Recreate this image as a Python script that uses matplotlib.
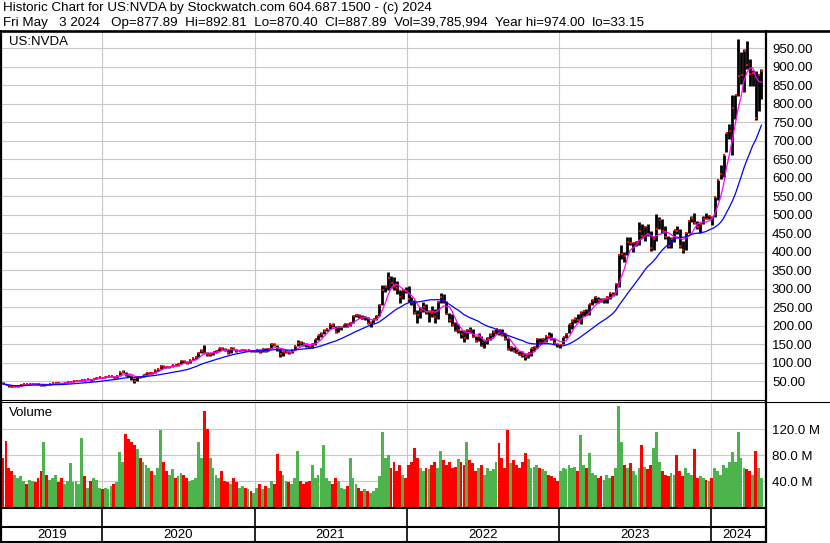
import numpy as np
import pandas as pd
import matplotlib
matplotlib.use('Agg')
import matplotlib.pyplot as plt
import matplotlib.dates as mdates

plt.rcParams['font.family'] = ['Liberation Sans', 'DejaVu Sans']
plt.rcParams['font.size'] = 9.5

# Weekly bars, weeks starting Monday 2019-05-06 (USD, millions of shares)
close_2019 = [42.2, 39.7, 35.8, 33.9, 35.7, 36.2, 38.6, 41.1, 41.0, 42.0, 42.5, 42.3, 40.6, 39.3, 40.2, 40.0, 42.0, 44.7,
              45.5, 44.4, 42.7, 44.2, 47.0, 48.5, 50.0, 51.2, 51.2, 53.5, 52.3, 54.2, 52.0, 56.0, 59.5, 59.6, 59.0]
high_2019 = [46.0, 42.8, 39.5, 36.5, 36.2, 37.5, 39.5, 41.5, 42.5, 42.5, 44.0, 44.5, 43.8, 40.5, 42.0, 42.0, 42.3, 45.0,
             46.5, 46.5, 44.8, 44.5, 47.5, 49.5, 50.5, 52.0, 52.5, 55.0, 53.8, 54.5, 54.5, 56.5, 60.0, 60.0, 60.5]
low_2019 = [41.0, 38.5, 34.5, 33.2, 33.2, 35.0, 36.0, 38.0, 40.2, 40.0, 41.5, 41.5, 40.0, 36.5, 37.5, 38.5, 39.5, 41.5,
            44.0, 43.5, 41.8, 41.5, 43.5, 46.5, 48.0, 49.5, 50.5, 50.5, 50.5, 52.0, 50.5, 52.5, 56.0, 59.0, 58.0]
vol_2019 = [75, 102, 60, 55, 50, 45, 48, 40, 35, 42, 40, 38, 45, 55, 100, 50, 42, 45, 50, 38, 45, 35, 40, 68, 38, 40,
            35, 106, 48, 30, 40, 45, 42, 30, 28]

close_2020 = [61.5, 62.3, 62.3, 59.2, 63.5, 73.8, 73.8, 67.2, 65.5, 60.5, 51.0, 61.5, 60.0, 66.8, 71.3, 71.3, 71.0, 79.0,
              82.8, 90.3, 88.8, 87.5, 88.0, 93.0, 92.0, 96.3, 105.0, 101.3, 98.5, 106.3, 112.0, 115.5, 127.0, 132.5,
              127.0, 121.5, 121.8, 128.0, 130.8, 139.3, 136.8, 135.0, 125.3, 138.0, 136.3, 131.5, 132.5, 135.0, 132.3,
              132.8, 130.0, 130.5]
high_2020 = [62.5, 64.0, 63.8, 63.0, 64.0, 74.5, 78.5, 74.0, 70.0, 67.5, 59.0, 62.5, 63.5, 67.5, 72.5, 74.0, 75.0, 79.5,
             83.5, 91.5, 92.0, 90.0, 90.5, 94.5, 94.0, 97.5, 106.5, 106.5, 103.0, 107.0, 113.0, 117.0, 128.0, 136.5,
             147.0, 128.0, 126.0, 129.0, 134.0, 140.0, 142.0, 140.0, 137.0, 139.0, 143.0, 137.0, 134.0, 137.0, 137.0,
             135.0, 134.0, 132.5]
low_2020 = [58.5, 60.5, 60.5, 58.5, 59.5, 63.5, 73.0, 63.5, 60.5, 52.5, 45.0, 51.0, 57.0, 60.5, 67.0, 69.0, 69.5, 71.5,
            78.0, 82.0, 86.0, 84.5, 84.0, 88.0, 90.0, 91.5, 97.0, 100.0, 97.0, 98.5, 106.0, 110.0, 115.0, 126.0, 125.0,
            117.0, 116.5, 120.0, 127.0, 130.0, 134.0, 132.5, 124.0, 125.0, 133.0, 129.0, 130.0, 131.0, 131.0, 130.0,
            128.0, 128.5]
vol_2020 = [30, 28, 32, 35, 38, 85, 70, 113, 105, 100, 95, 90, 75, 70, 65, 60, 55, 50, 60, 118, 70, 55, 50, 58, 45, 48,
            52, 50, 45, 40, 42, 45, 100, 75, 148, 120, 76, 60, 50, 45, 55, 40, 38, 35, 45, 38, 30, 32, 30, 28, 25, 22]

close_2021 = [133.0, 129.3, 137.0, 130.0, 137.0, 149.5, 147.5, 137.0, 122.3, 129.0, 129.0, 126.0, 134.0, 144.5, 154.0,
              153.0, 150.0, 146.5, 142.0, 150.0, 162.5, 174.5, 178.3, 186.3, 191.3, 204.0, 201.0, 181.8, 195.0, 195.0,
              203.0, 201.0, 208.0, 226.0, 228.0, 225.0, 219.0, 222.0, 208.0, 208.0, 218.0, 227.0, 255.0, 297.5, 303.0,
              329.8, 315.0, 306.0, 302.0, 277.0, 296.0, 294.0]
high_2021 = [136, 137, 139, 139, 138, 152, 154, 148, 138, 130, 133, 132, 135, 146, 160, 157, 156, 152, 148, 152, 163,
             175, 182, 190, 192, 205, 208, 200, 197, 199, 205, 206, 210, 228, 230, 231, 228, 226, 224, 212, 219, 228,
             257, 309, 310, 346, 334, 330, 320, 296, 298, 303]
low_2021 = [128, 126, 128, 129, 130, 138, 145, 132, 115, 117, 125, 122, 125, 134, 145, 148, 146, 143, 138, 138, 148,
            160, 170, 176, 184, 190, 195, 180, 182, 188, 195, 196, 199, 208, 222, 220, 217, 214, 205, 196, 207, 214,
            226, 255, 290, 296, 302, 295, 285, 262, 272, 289]
vol_2021 = [30, 35, 28, 32, 30, 40, 35, 82, 55, 50, 40, 38, 35, 45, 87, 40, 35, 38, 40, 64, 45, 50, 60, 95, 45, 40, 35,
            45, 40, 30, 28, 32, 76, 45, 35, 30, 25, 28, 25, 22, 25, 30, 48, 116, 75, 80, 60, 70, 55, 65, 50, 45]

close_2022 = [272.5, 265.0, 233.7, 228.4, 239.0, 250.0, 236.4, 237.5, 233.9, 222.9, 264.5, 276.9, 267.1, 231.2, 214.1,
              201.8, 185.5, 186.8, 177.1, 166.9, 188.1, 187.2, 169.8, 158.8, 171.3, 145.2, 158.4, 165.0, 173.2, 181.6,
              191.2, 187.1, 174.0, 163.3, 136.5, 142.8, 131.4, 125.6, 121.4, 120.8, 115.0, 124.7, 138.3, 141.6, 163.3,
              154.1, 163.2, 171.3, 171.2, 165.0, 152.1, 146.1]
high_2022 = [307, 277, 268, 243, 251, 264, 259, 243, 254, 245, 266, 287, 285, 266, 234, 230, 210, 204, 187, 187, 190,
             196, 192, 173, 179, 173, 162, 169, 179, 187, 192, 192, 191, 181, 166, 144, 143, 136, 132, 130, 126, 127,
             139, 146, 166, 167, 166, 172, 182, 180, 167, 154]
low_2022 = [264, 256, 232, 208, 221, 237, 231, 209, 224, 208, 219, 260, 262, 230, 209, 198, 184, 180, 166, 156, 164,
            180, 169, 155, 158, 144, 140, 150, 160, 170, 177, 175, 172, 161, 133, 132, 129, 125, 120, 115, 108, 113,
            119, 131, 138, 151, 152, 155, 165, 162, 149, 141]
vol_2022 = [65, 70, 91, 75, 60, 55, 60, 58, 65, 70, 60, 87, 72, 65, 70, 60, 62, 74, 70, 65, 100, 72, 68, 55, 60, 65,
            50, 60, 55, 58, 70, 98, 75, 60, 118, 68, 72, 65, 60, 70, 83, 74, 60, 62, 65, 60, 58, 55, 50, 48, 45, 40]

close_2023 = [148.6, 168.9, 178.4, 203.7, 211.0, 217.9, 213.9, 232.9, 239.0, 229.6, 257.3, 267.8, 277.8, 270.4, 267.5,
              271.1, 277.5, 287.0, 283.4, 312.6, 389.5, 393.3, 387.7, 426.9, 422.1, 423.0, 425.0, 454.7, 443.1, 467.5,
              446.8, 408.6, 432.9, 460.2, 485.1, 455.7, 439.0, 416.1, 435.0, 457.6, 454.6, 413.9, 405.0, 450.1, 483.4,
              492.0, 477.8, 467.7, 475.1, 488.9, 488.3, 495.2]
high_2023 = [151, 170, 180, 205, 217, 222, 230, 240, 240, 245, 258, 271, 279, 278, 274, 275, 280, 289, 292, 315, 394,
             419, 398, 439, 439, 425, 428, 480, 476, 469, 474, 457, 441, 502, 494, 488, 470, 441, 440, 459, 469, 460,
             430, 452, 484, 496, 505, 482, 478, 495, 504, 499]
low_2023 = [140, 149, 165, 180, 190, 206, 210, 205, 226, 228, 228, 255, 262, 262, 264, 262, 262, 272, 280, 282, 305,
            380, 372, 390, 418, 399, 414, 418, 437, 430, 443, 403, 404, 430, 460, 450, 434, 409, 410, 425, 448, 411,
            396, 405, 451, 480, 476, 462, 450, 476, 487, 489]
vol_2023 = [55, 60, 58, 65, 60, 62, 55, 111, 65, 60, 83, 52, 50, 45, 48, 42, 50, 45, 48, 60, 156, 100, 65, 60, 68, 55,
            50, 60, 95, 62, 58, 65, 91, 115, 70, 55, 50, 48, 52, 50, 80, 55, 48, 60, 52, 50, 90, 45, 48, 45, 42, 40]

close_2024 = [491.0, 547.1, 594.9, 610.3, 661.6, 721.3, 726.1, 788.2, 822.8, 875.3, 878.4, 942.9, 903.6, 880.1, 881.9,
              762.0, 877.4, 887.9]
high_2024 = [497, 549, 595, 634, 662, 722, 746, 824, 823, 974, 939, 947, 969, 922, 892, 888, 880, 893]
low_2024 = [473, 493, 540, 596, 601, 670, 705, 662, 760, 820, 853, 833, 895, 848, 847, 756, 779, 812]
vol_2024 = [45, 60, 55, 50, 65, 60, 70, 85, 70, 115, 75, 60, 58, 55, 50, 87, 60, 45]

prior_close = 45.5
years = ['2019', '2020', '2021', '2022', '2023', '2024']
price_ticks = [50, 100, 150, 200, 250, 300, 350, 400, 450, 500, 550, 600, 650, 700, 750, 800, 850, 900, 950]
vol_ticks = [40, 80, 120]

header1 = 'Historic Chart for US:NVDA by Stockwatch.com 604.687.1500 - (c) 2024'
header2 = ('Fri May   3 2024   Op=877.89  Hi=892.81  Lo=870.40  Cl=887.89  '
           'Vol=39,785,994  Year hi=974.00  lo=33.15')

close = np.array(close_2019 + close_2020 + close_2021 + close_2022 + close_2023 + close_2024)
high = np.array(high_2019 + high_2020 + high_2021 + high_2022 + high_2023 + high_2024)
low = np.array(low_2019 + low_2020 + low_2021 + low_2022 + low_2023 + low_2024)
volume = np.array(vol_2019 + vol_2020 + vol_2021 + vol_2022 + vol_2023 + vol_2024)

weeks = pd.date_range('2019-05-06', periods=len(close), freq='W-MON')
xw = mdates.date2num(weeks) + 2.5

ma_fast = pd.Series(close).rolling(5, min_periods=1).mean()
ma_slow = pd.Series(close).rolling(20, min_periods=1).mean()
prev = np.r_[prior_close, close[:-1]]
vol_colors = np.where(close >= prev, '#4DB34D', '#FF0000')

W, H = 830, 543
fig = plt.figure(figsize=(W / 100, H / 100), dpi=100)


def box(x0, y0, x1, y1):
    # axes placed in pixel coordinates, y measured from the top
    return fig.add_axes([x0 / W, 1 - y1 / H, (x1 - x0) / W, (y1 - y0) / H])


x_lo = mdates.date2num(pd.Timestamp('2019-05-06'))
x_hi = mdates.date2num(pd.Timestamp('2024-05-10'))
year_starts = mdates.date2num(pd.to_datetime([f'{y}-01-01' for y in years[1:]]))
grid = '#C8C8C8'

# price panel
ax = box(2, 32, 765, 399.5)
ax.set_xlim(x_lo, x_hi)
ax.set_ylim(0, 994)
for v in price_ticks:
    ax.axhline(v, color=grid, lw=0.8, zorder=0)
for xs in year_starts:
    ax.axvline(xs, color=grid, lw=0.8, zorder=0)
ax.vlines(xw, low, high, color='black', lw=2.0, zorder=3)
ax.plot(xw + 1.5, close, 's', color='#FF0000', ms=2.0, mew=0, zorder=4)
ax.plot(xw, ma_fast, color='#FF00FF', lw=0.9, zorder=5)
ax.plot(xw, ma_slow, color='#0000FF', lw=0.9, zorder=5)
ax.set_xticks([])
ax.yaxis.tick_right()
ax.set_yticks(price_ticks)
ax.set_yticklabels([f'{v:.2f}' for v in price_ticks])
ax.tick_params(axis='y', length=0, pad=5)
for s in ax.spines.values():
    s.set_visible(False)
ax.text(7 / 763, 1 - 10 / 367.5, 'US:NVDA', transform=ax.transAxes, va='center', ha='left')

# volume panel
av = box(2, 402.5, 765, 507)
av.set_xlim(x_lo, x_hi)
av.set_ylim(0, 161)
for v in vol_ticks:
    av.axhline(v, color=grid, lw=0.8, zorder=0)
for xs in year_starts:
    av.axvline(xs, color=grid, lw=0.8, zorder=0)
av.bar(xw, volume, width=6.8, color=vol_colors, linewidth=0, zorder=2)
av.set_xticks([])
av.yaxis.tick_right()
av.set_yticks(vol_ticks)
av.set_yticklabels([f'{v:.1f} M' for v in vol_ticks])
av.tick_params(axis='y', length=0, pad=5)
for s in av.spines.values():
    s.set_visible(False)
av.text(7 / 763, 1 - 11 / 104.5, 'Volume', transform=av.transAxes, va='center', ha='left')

# date strip
ab = box(2, 508, 765, 542)
ab.set_xlim(x_lo, x_hi)
ab.set_ylim(0, 1)
ab.axis('off')
for xs in year_starts:
    ab.axvline(xs, color='black', lw=1.2)
edges = np.r_[x_lo, year_starts, mdates.date2num(pd.Timestamp('2024-05-04'))]
for y, a, b in zip(years, edges[:-1], edges[1:]):
    ab.text((a + b) / 2, 0.22, y, ha='center', va='center')

# frame lines in pixel units
ov = fig.add_axes([0, 0, 1, 1], facecolor='none')
ov.set_xlim(0, W)
ov.set_ylim(H, 0)
ov.axis('off')
k = dict(color='black', solid_capstyle='butt')
ov.plot([0, W], [30.5, 30.5], lw=1.9, **k)
ov.plot([1, 1], [30, H], lw=1.6, **k)
ov.plot([766, 766], [30, H], lw=1.6, **k)
ov.plot([0, 766], [400, 400], lw=0.8, **k)
ov.plot([0, W], [402, 402], lw=0.8, **k)
ov.plot([0, 766], [508, 508], lw=1.5, **k)
ov.plot([0, 766], [527, 527], lw=1.5, **k)
ov.plot([0, 766], [541.8, 541.8], lw=1.5, **k)

fig.text(3 / W, 1 - 10.5 / H, header1, va='baseline', ha='left', fontsize=9.65)
fig.text(3 / W, 1 - 26 / H, header2, va='baseline', ha='left', fontsize=9.65)

fig.savefig('out.png', dpi=100)
